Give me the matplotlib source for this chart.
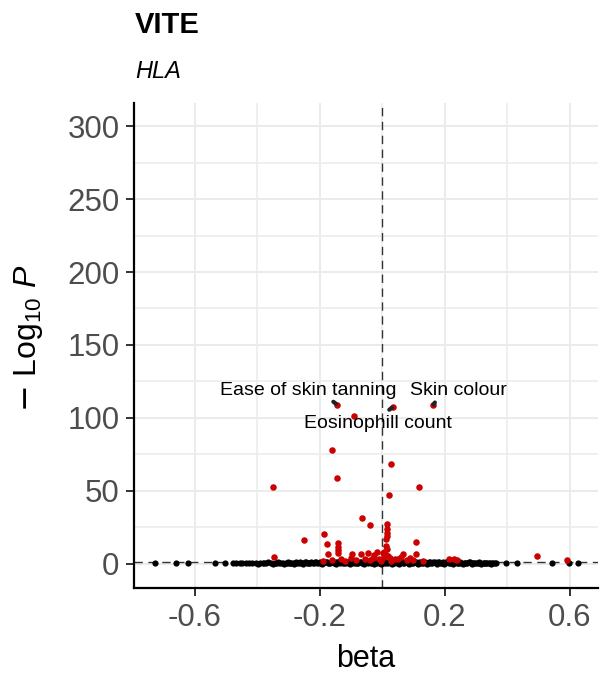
import numpy as np
import matplotlib
matplotlib.use('Agg')
import matplotlib.pyplot as plt
from matplotlib.ticker import MultipleLocator

plt.rcParams['font.family'] = ['Liberation Sans', 'DejaVu Sans']
plt.rcParams['mathtext.fontset'] = 'custom'
plt.rcParams['mathtext.rm'] = 'Liberation Sans'
plt.rcParams['mathtext.it'] = 'Liberation Sans:italic'
plt.rcParams['mathtext.sf'] = 'DejaVu Sans'

# non-significant associations (beta, -log10 P)
black_pts = [(-0.726, 0.3), (-0.659, 0.4), (-0.621, 0.2), (-0.534, 0.3), (-0.502, 0.5),
             (-0.478, 0.2), (-0.468, 0.4), (-0.455, 0.1), (-0.447, 0.6), (-0.436, 0.3),
             (-0.425, 0.2), (-0.39, 0.5), (-0.372, 0.3), (-0.365, 0.7), (-0.355, 0.2),
             (-0.341, 0.4), (-0.333, 0.8), (-0.325, 0.1), (-0.318, 0.5), (-0.309, 0.3),
             (-0.301, 0.9), (-0.294, 0.2), (-0.286, 0.6), (-0.279, 0.4), (-0.271, 0.1),
             (-0.263, 0.7), (-0.256, 0.3), (-0.248, 0.9), (-0.241, 0.5), (-0.233, 0.2),
             (-0.226, 0.8), (-0.218, 0.4), (-0.211, 1.0), (-0.203, 0.1), (-0.196, 0.6),
             (-0.188, 0.3), (-0.181, 1.1), (-0.173, 0.5), (-0.166, 0.2), (-0.158, 0.9),
             (-0.151, 0.4), (-0.143, 1.2), (-0.136, 0.1), (-0.128, 0.7), (-0.121, 0.3),
             (-0.113, 1.0), (-0.106, 0.5), (-0.098, 0.2), (-0.091, 1.1), (-0.083, 0.6),
             (-0.076, 0.3), (-0.068, 0.9), (-0.061, 0.1), (-0.053, 1.2), (-0.046, 0.4),
             (-0.038, 0.8), (-0.031, 0.2), (-0.023, 1.1), (-0.016, 0.6), (-0.008, 0.3),
             (-0.001, 1.0), (0.007, 0.5), (0.014, 0.1), (0.022, 1.2), (0.029, 0.7),
             (0.037, 0.3), (0.044, 0.9), (0.052, 0.2), (0.059, 1.1), (0.067, 0.5),
             (0.074, 0.8), (0.082, 0.1), (0.089, 1.0), (0.097, 0.4), (0.104, 0.7),
             (0.112, 0.2), (0.119, 0.9), (0.127, 0.5), (0.134, 1.1), (0.142, 0.3),
             (0.149, 0.6), (0.157, 0.1), (0.164, 0.8), (0.172, 0.4), (0.179, 1.0),
             (0.187, 0.2), (0.194, 0.7), (0.202, 0.3), (0.209, 0.9), (0.217, 0.5),
             (0.224, 0.2), (0.232, 0.8), (0.239, 0.4), (0.247, 0.6), (0.254, 0.1),
             (0.262, 0.5), (0.269, 0.3), (0.277, 0.7), (0.284, 0.2), (0.292, 0.4),
             (0.299, 0.6), (0.307, 0.1), (0.314, 0.3), (0.322, 0.5), (0.329, 0.2),
             (0.337, 0.4), (0.345, 0.3), (0.352, 0.1), (0.36, 0.3), (0.397, 0.2),
             (0.432, 0.3), (0.544, 0.2), (0.598, 0.4), (0.627, 0.3)]

# dense bulk of near-null associations around beta = 0
black_bulk = [(-0.415, 0.1), (-0.405, 0.3), (-0.398, 0.0), (-0.382, 0.2), (-0.377, 0.1),
              (-0.348, 0.0), (-0.338, 0.2), (-0.329, 0.4), (-0.314, 0.0), (-0.305, 0.6),
              (-0.297, 0.1), (-0.29, 0.3), (-0.282, 0.0), (-0.275, 0.8), (-0.267, 0.2),
              (-0.26, 0.5), (-0.252, 0.0), (-0.245, 1.1), (-0.237, 0.3), (-0.23, 0.6),
              (-0.222, 0.1), (-0.215, 0.9), (-0.207, 0.4), (-0.2, 1.2), (-0.192, 0.0),
              (-0.185, 0.7), (-0.177, 1.0), (-0.17, 0.2), (-0.162, 1.2), (-0.155, 0.5),
              (-0.147, 0.0), (-0.14, 0.9), (-0.132, 1.2), (-0.125, 0.3), (-0.117, 0.6),
              (-0.11, 1.3), (-0.102, 0.0), (-0.095, 0.8), (-0.087, 1.2), (-0.08, 0.4),
              (-0.072, 1.3), (-0.065, 0.6), (-0.057, 0.0), (-0.05, 1.0), (-0.042, 1.3),
              (-0.035, 0.5), (-0.027, 0.0), (-0.02, 1.2), (-0.012, 0.8), (-0.005, 0.0),
              (0.003, 1.3), (0.01, 0.7), (0.018, 0.3), (0.025, 1.1), (0.033, 0.0),
              (0.04, 1.3), (0.048, 0.6), (0.055, 0.0), (0.063, 1.2), (0.07, 0.3),
              (0.078, 1.0), (0.085, 0.0), (0.093, 1.3), (0.1, 0.5), (0.108, 1.1),
              (0.115, 0.0), (0.123, 1.2), (0.13, 0.4), (0.138, 0.8), (0.145, 0.0),
              (0.153, 1.1), (0.16, 0.3), (0.168, 0.9), (0.175, 0.0), (0.183, 1.2),
              (0.19, 0.5), (0.198, 0.0), (0.205, 1.0), (0.213, 0.2), (0.22, 0.7),
              (0.228, 0.0), (0.235, 1.1), (0.243, 0.3), (0.25, 0.8), (0.258, 0.0),
              (0.265, 0.6), (0.273, 0.2), (0.28, 0.9), (0.288, 0.0), (0.295, 0.5),
              (0.303, 0.3), (0.31, 0.7), (0.318, 0.0), (0.325, 0.4), (0.333, 0.1),
              (0.341, 0.5), (0.349, 0.0), (0.356, 0.2), (0.364, 0.1),
              (-0.09, 0.2), (-0.06, 0.4), (-0.03, 0.9), (0.0, 0.6), (0.03, 0.4),
              (0.06, 0.8), (-0.15, 0.7), (-0.12, 0.9), (0.12, 0.6), (0.15, 0.8)]

# significant associations (beta, -log10 P)
red_pts = [(-0.144, 109.0), (0.035, 107.5), (0.163, 108.5), (-0.089, 100.9),
           (-0.161, 78.0), (-0.145, 59.0), (-0.349, 52.7), (0.029, 68.0), (0.023, 47.0),
           (0.117, 52.7), (-0.063, 31.3), (-0.039, 26.3), (0.017, 27.4), (0.016, 24.0),
           (0.015, 21.0), (0.015, 19.0), (0.014, 17.0), (-0.185, 20.5), (-0.251, 16.4),
           (-0.176, 13.2), (-0.141, 13.9), (-0.141, 11.5), (-0.141, 9.6), (-0.174, 6.6),
           (-0.141, 7.5), (0.109, 14.6), (0.107, 6.6), (-0.346, 4.3), (-0.095, 6.3),
           (-0.069, 6.3), (-0.045, 7.4), (-0.017, 8.0), (0.007, 8.0), (0.003, 7.0),
           (0.012, 6.0), (0.02, 5.0), (0.068, 6.3), (0.06, 4.5), (0.214, 3.4), (0.23, 2.8),
           (0.24, 2.2), (0.496, 5.0), (0.593, 2.3), (-0.16, 2.5), (-0.13, 3.0), (-0.1, 3.5),
           (-0.085, 2.2), (-0.055, 3.0), (-0.03, 4.0), (-0.01, 3.2), (0.005, 4.5),
           (0.025, 3.6), (0.04, 2.8), (0.05, 3.3), (0.08, 2.6), (0.09, 3.8), (0.1, 2.2),
           (-0.12, 2.0), (-0.19, 1.8), (-0.04, 2.3), (0.13, 2.0), (0.03, 2.0),
           (-0.005, 2.0), (0.015, 10.0), (0.012, 12.0), (-0.025, 5.5), (0.01, 5.0)]

# labelled traits
label_names = ['Ease of skin tanning', 'Eosinophill count', 'Skin colour']
label_beta = [-0.144, 0.035, 0.163]
label_logp = [109.0, 107.5, 108.5]
label_text_x = [-0.237, -0.013, 0.243]
label_text_y = [118.4, 96.4, 118.4]

pval_cut = 1.3  # -log10(0.05)

black = np.array(black_pts + black_bulk)
red = np.array(red_pts)

fig = plt.figure(figsize=(6.04, 6.75), dpi=100)
ax = fig.add_axes([0.2219, 0.1289, 0.7681, 0.7185])

ax.set_xlim(-0.794, 0.691)
ax.set_ylim(-16.8, 316)
ax.set_xticks([-0.6, -0.2, 0.2, 0.6])
ax.set_xticklabels(['-0.6', '-0.2', '0.2', '0.6'])
ax.xaxis.set_minor_locator(MultipleLocator(0.2))
ax.set_yticks([0, 50, 100, 150, 200, 250, 300])
ax.yaxis.set_minor_locator(MultipleLocator(25))

ax.grid(True, which='major', color='#EBEBEB', lw=1.4, zorder=0)
ax.grid(True, which='minor', color='#EBEBEB', lw=1.1, zorder=0)
ax.set_axisbelow(True)

for s in ['top', 'right']:
    ax.spines[s].set_visible(False)
for s in ['left', 'bottom']:
    ax.spines[s].set_linewidth(1.6)
    ax.spines[s].set_color('black')

ax.tick_params(which='major', length=5.5, width=1.4, color='#333333',
               labelsize=22.5, labelcolor='#4D4D4D', pad=5)
ax.tick_params(which='minor', length=0)

ax.axvline(0, color='#333333', lw=1.0, ls=(0, (6, 4)), zorder=1.5)
ax.axhline(pval_cut, color='#333333', lw=1.0, ls=(0, (6, 4)), zorder=1.5)

ax.scatter(black[:, 0], black[:, 1], s=20, color='black', lw=0, zorder=2)
ax.scatter(red[:, 0], red[:, 1], s=22, color='#CC0000', lw=0, zorder=3)

for name, bx, by, tx, ty in zip(label_names, label_beta, label_logp, label_text_x, label_text_y):
    # short ggrepel-like segment from label side towards the point
    dx = 0.012 if tx < bx else -0.006
    dy = 2.0 if ty > by else -2.0
    ax.plot([bx - dx, bx - dx * 0.3], [by + dy, by + dy * 0.3], color='#222222',
            lw=3, solid_capstyle='round', zorder=4)
    ax.text(tx, ty, name, fontsize=14, ha='center', va='center', color='black', zorder=5)

ax.set_xlabel('beta', fontsize=22, labelpad=8)
ax.set_ylabel(r'$\mathsf{-}\ \mathrm{Log}_{10}\ \mathit{P}$', fontsize=23, labelpad=16,
              y=0.514)

fig.text(0.2235, 0.951, 'VITE', fontsize=21, fontweight='bold', ha='left', va='baseline')
fig.text(0.2235, 0.884, 'HLA', fontsize=17, fontstyle='italic', ha='left', va='baseline')

fig.savefig('out.png', dpi=100)
